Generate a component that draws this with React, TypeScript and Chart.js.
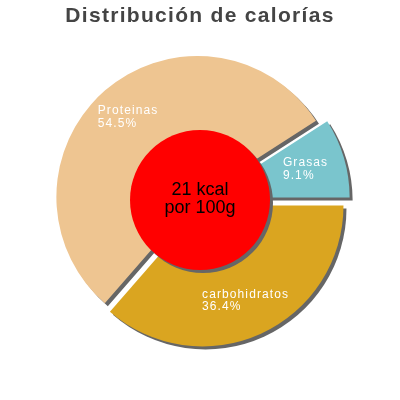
import React, { useEffect, useRef } from 'react';
import { Chart, registerables } from 'chart.js';

Chart.register(...registerables);

// slices in clockwise order, starting at 3 o'clock
const categories = ['carbohidratos', 'Proteinas', 'Grasas'];
const percentages = [36.4, 54.5, 9.1];
const sliceColors = ['#daa520', '#eec591', '#7ac5cd'];
const explode = [6, 4, 9];
const centerLines = ['21 kcal', 'por 100g'];
const chartTitle = 'Distribución de calorías';

const PIE_RADIUS = 141;
const BADGE_RADIUS = 70;
const LABEL_RADIUS = 110;

const pieDecor = {
  id: 'pieDecor',
  afterDatasetUpdate(chart: any, args: any) {
    // push exploded slices out along their mid angle
    args.meta.data.forEach((arc: any, i: number) => {
      const mid = (arc.startAngle + arc.endAngle) / 2;
      arc.x += Math.cos(mid) * explode[i];
      arc.y += Math.sin(mid) * explode[i];
    });
  },
  beforeDraw(chart: any) {
    chart.ctx.letterSpacing = '1.3px';
  },
  beforeDatasetsDraw(chart: any) {
    const ctx = chart.ctx;
    ctx.letterSpacing = '0px';
    ctx.save();
    ctx.shadowColor = '#666';
    ctx.shadowOffsetX = 3;
    ctx.shadowOffsetY = 3;
    ctx.shadowBlur = 0;
  },
  afterDatasetsDraw(chart: any) {
    const ctx = chart.ctx;
    const { left, right, top, bottom } = chart.chartArea;
    const cx = (left + right) / 2;
    const cy = (top + bottom) / 2;

    ctx.beginPath();
    ctx.arc(cx, cy, BADGE_RADIUS, 0, Math.PI * 2);
    ctx.fillStyle = '#ff0000';
    ctx.fill();
    ctx.restore();

    ctx.save();
    ctx.font = '12px "Liberation Sans"';
    ctx.fillStyle = '#ffffff';
    ctx.letterSpacing = '1.1px';
    ctx.textAlign = 'left';
    ctx.textBaseline = 'alphabetic';
    const meta = chart.getDatasetMeta(0);
    meta.data.forEach((arc: any, i: number) => {
      const mid = (arc.startAngle + arc.endAngle) / 2;
      const ax = cx + Math.cos(mid) * LABEL_RADIUS;
      const ay = cy + Math.sin(mid) * LABEL_RADIUS;
      const lines = [categories[i], percentages[i].toFixed(1) + '%'];
      const w = Math.max(...lines.map((l) => ctx.measureText(l).width));
      lines.forEach((line, j) => ctx.fillText(line, ax - w / 2, ay - 2.5 + j * 12.5));
    });

    ctx.font = '18px "Liberation Sans"';
    ctx.fillStyle = '#000000';
    ctx.letterSpacing = '0px';
    ctx.textAlign = 'center';
    centerLines.forEach((line, j) => ctx.fillText(line, cx, cy - 5 + j * 18));
    ctx.restore();
  },
};

const App: React.FC = () => {
  const chartRef = useRef<HTMLCanvasElement>(null);
  const chartInstance = useRef<Chart | null>(null);

  useEffect(() => {
    if (chartInstance.current) {
      chartInstance.current.destroy();
    }
    if (chartRef.current) {
      const ctx = chartRef.current.getContext('2d');
      if (ctx) {
        // @ts-ignore
        chartInstance.current = new Chart(ctx, {
          type: 'pie',
          data: {
            labels: categories,
            datasets: [
              {
                data: percentages,
                backgroundColor: sliceColors,
                borderWidth: 0,
              },
            ],
          },
          options: {
            responsive: false,
            animation: false,
            rotation: 90,
            radius: PIE_RADIUS,
            layout: { padding: { bottom: 29.2 } },
            font: { family: '"Liberation Sans"' },
            plugins: {
              legend: { display: false },
              tooltip: { enabled: false },
              title: {
                display: true,
                text: chartTitle,
                color: '#444444',
                font: { family: '"Liberation Sans"', size: 21, weight: 'bold', lineHeight: 1.2 },
                padding: { top: 4, bottom: 0 },
              },
            },
          },
          plugins: [pieDecor],
        });
      }
    }

    return () => {
      if (chartInstance.current) {
        chartInstance.current.destroy();
        chartInstance.current = null;
      }
    };
  }, []);

  return (
    <div style={{ position: 'absolute', left: 0, top: 0, width: 400, height: 400 }}>
      <canvas ref={chartRef} width={400} height={400}></canvas>
    </div>
  );
};

export default App;
